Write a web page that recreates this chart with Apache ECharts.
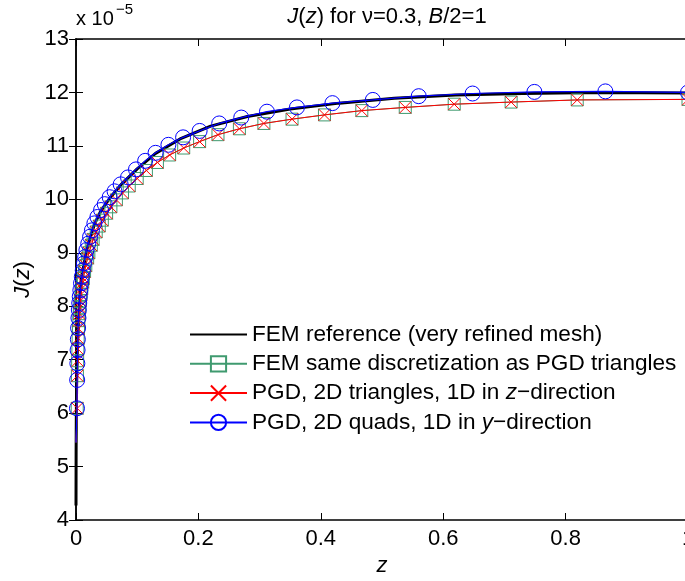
<!DOCTYPE html>
<html><head><meta charset="utf-8">
<script src="https://cdn.jsdelivr.net/npm/echarts@6/dist/echarts.min.js"></script>
<style>html,body{margin:0;padding:0;background:#fff}#c{width:685px;height:581px}</style>
</head><body><div id="c"></div><script>
// FEM reference (very refined mesh)
const refZ = [0, 0.0002, 0.0005, 0.001, 0.0016, 0.0022, 0.003, 0.004, 0.0055, 0.0075, 0.01, 0.013, 0.017, 0.022, 0.03, 0.04, 0.055, 0.075, 0.1, 0.13, 0.17, 0.22, 0.28, 0.35, 0.43, 0.52, 0.62, 0.73, 0.85, 1.0];
const refJ = [4.27, 5.3, 5.9, 6.5, 6.85, 7.1, 7.4, 7.7, 8.05, 8.4, 8.62, 8.78, 9.03, 9.24, 9.53, 9.77, 10.02, 10.29, 10.57, 10.86, 11.13, 11.37, 11.55, 11.69, 11.80, 11.89, 11.95, 11.98, 12.0, 11.99];
// triangle discretization nodes (FEM same discretization & PGD triangles)
const triZ = [0, 0.0020, 0.0023, 0.0027, 0.0031, 0.0035, 0.0041, 0.0047, 0.0054, 0.0062, 0.0071, 0.0082, 0.0094, 0.011, 0.012, 0.014, 0.016, 0.019, 0.021, 0.025, 0.028, 0.033, 0.038, 0.043, 0.050, 0.057, 0.066, 0.076, 0.087, 0.100, 0.115, 0.133, 0.153, 0.176, 0.202, 0.232, 0.267, 0.307, 0.353, 0.406, 0.467, 0.538, 0.618, 0.711, 0.819, 1.0];
const femTriJ = [5.45, 6.09, 6.70, 6.98, 7.20, 7.40, 7.58, 7.73, 7.86, 7.98, 8.10, 8.22, 8.33, 8.45, 8.52, 8.65, 8.76, 8.90, 9.00, 9.14, 9.25, 9.39, 9.50, 9.61, 9.74, 9.86, 9.99, 10.12, 10.25, 10.39, 10.54, 10.69, 10.83, 10.96, 11.08, 11.21, 11.32, 11.42, 11.50, 11.58, 11.66, 11.72, 11.78, 11.82, 11.86, 11.87];
const pgdTriJ = [5.45, 6.09, 6.70, 6.98, 7.20, 7.40, 7.58, 7.73, 7.86, 7.98, 8.10, 8.22, 8.33, 8.45, 8.52, 8.65, 8.76, 8.90, 9.00, 9.14, 9.25, 9.39, 9.50, 9.61, 9.74, 9.86, 9.99, 10.12, 10.25, 10.39, 10.54, 10.69, 10.83, 10.96, 11.08, 11.21, 11.32, 11.42, 11.50, 11.58, 11.66, 11.72, 11.78, 11.82, 11.86, 11.87];
// quad discretization nodes (PGD quads, 1D in y-direction)
const quadZ = [0, 0.0016, 0.0019, 0.0022, 0.0026, 0.0030, 0.0034, 0.0040, 0.0046, 0.0053, 0.0061, 0.0071, 0.0082, 0.0095, 0.011, 0.013, 0.015, 0.017, 0.020, 0.023, 0.026, 0.030, 0.035, 0.041, 0.047, 0.055, 0.063, 0.073, 0.085, 0.098, 0.113, 0.130, 0.151, 0.175, 0.202, 0.234, 0.270, 0.312, 0.361, 0.419, 0.485, 0.560, 0.648, 0.749, 0.865, 1.0];
const pgdQuadJ = [5.45, 6.09, 6.62, 6.93, 7.18, 7.38, 7.59, 7.78, 7.93, 8.06, 8.18, 8.30, 8.43, 8.55, 8.67, 8.80, 8.92, 9.05, 9.17, 9.30, 9.42, 9.55, 9.67, 9.80, 9.91, 10.04, 10.15, 10.28, 10.41, 10.56, 10.72, 10.87, 11.02, 11.16, 11.28, 11.42, 11.53, 11.64, 11.72, 11.80, 11.86, 11.93, 11.98, 12.01, 12.02, 12.00];

const seriesNames = ['FEM reference (very refined mesh)', 'FEM same discretization as PGD triangles', 'PGD, 2D triangles, 1D in z\u2212direction', 'PGD, 2D quads, 1D in y\u2212direction'];
const legendLabels = ['FEM reference (very refined mesh)', 'FEM same discretization as PGD triangles', 'PGD, 2D triangles, 1D in {i|z}\u2212direction', 'PGD, 2D quads, 1D in {i|y}\u2212direction'];
const xTickLabels = ['0', '0.2', '0.4', '0.6', '0.8', '1'];
const yTickLabels = ['4', '5', '6', '7', '8', '9', '10', '11', '12', '13'];
const titleText = '{i|J}({i|z}) for \u03bd=0.3, {i|B}/2=1';
const yName = '{i|J}({i|z})';
const scaleText = 'x 10';
const scaleExp = '\u22125';

const FONT = '"Liberation Sans", Arial, Helvetica, sans-serif';
function pts(zs, js) {
  return zs.map((z, i) => z === 0 ? {value: [z, js[i]], symbol: 'none'} : [z, js[i]]);
}
const chart = echarts.init(document.getElementById('c'), null, {renderer: 'canvas'});
const axisCommon = {
  axisLine: {show: true, lineStyle: {color: '#000', width: 1.5}},
  axisTick: {show: true, inside: true, length: 7, lineStyle: {color: '#000', width: 1}},
  splitLine: {show: false}
};
const crossPath = 'path://M0,0L10,10M10,0L0,10';
chart.setOption({
  animation: false,
  backgroundColor: '#fff',
  title: {
    text: titleText, left: 382, top: 1, textAlign: 'center',
    textStyle: {fontSize: 22, fontWeight: 'normal', color: '#000', fontFamily: FONT,
      rich: {i: {fontStyle: 'italic', fontSize: 22, fontFamily: FONT, color: '#000'}}}
  },
  graphic: [
    {type: 'text', left: 76, top: 9, style: {text: scaleText, fontSize: 20, fontFamily: FONT, fill: '#000'}},
    {type: 'text', left: 116, top: 2, style: {text: scaleExp, fontSize: 15, fontFamily: FONT, fill: '#000'}}
  ],
  grid: {left: 76, top: 39, right: -3, bottom: 61, containLabel: false, outerBoundsMode: 'none'},
  xAxis: [
    Object.assign({}, axisCommon, {
      type: 'value', min: 0, max: 1, interval: 0.2, position: 'bottom',
      axisLabel: {fontSize: 22, color: '#000', fontFamily: FONT, margin: 8,
        formatter: (v) => xTickLabels[Math.round(v / 0.2)]},
      name: 'z', nameLocation: 'middle', nameGap: 32,
      nameTextStyle: {fontSize: 22, fontStyle: 'italic', color: '#000', fontFamily: FONT}
    }),
    Object.assign({}, axisCommon, {
      type: 'value', min: 0, max: 1, interval: 0.2, position: 'top',
      axisLabel: {show: false}
    })
  ],
  yAxis: [
    Object.assign({}, axisCommon, {
      type: 'value', min: 4, max: 13, interval: 1, position: 'left',
      axisLabel: {fontSize: 22, color: '#000', fontFamily: FONT, margin: 7,
        formatter: (v) => yTickLabels[Math.round(v - 4)]},
      name: yName, nameLocation: 'middle', nameGap: 32, nameRotate: 90,
      nameTextStyle: {fontSize: 22, color: '#000', fontFamily: FONT,
        rich: {i: {fontStyle: 'italic', fontSize: 22, fontFamily: FONT, color: '#000'}}}
    }),
    Object.assign({}, axisCommon, {
      type: 'value', min: 4, max: 13, interval: 1, position: 'right',
      axisLabel: {show: false}
    })
  ],
  legend: {
    orient: 'vertical', left: 189, top: 323, itemWidth: 57, itemHeight: 19, itemGap: 6.3,
    padding: 0,
    textStyle: {fontSize: 22.6, color: '#000', fontFamily: FONT,
      rich: {i: {fontStyle: 'italic', fontSize: 22.6, fontFamily: FONT, color: '#000'}}},
    formatter: (n) => legendLabels[seriesNames.indexOf(n)],
    data: seriesNames
  },
  series: [
    {
      name: seriesNames[0], type: 'line', data: pts(refZ, refJ), showSymbol: false, symbol: 'circle',
      itemStyle: {color: 'rgba(0,0,0,0)'}, lineStyle: {color: '#000', width: 3}, z: 2
    },
    {
      name: seriesNames[1], type: 'line', data: pts(triZ, femTriJ), symbol: 'rect', symbolSize: 12, showAllSymbol: true,
      itemStyle: {color: 'rgba(0,0,0,0)', borderColor: '#3f9a6f', borderWidth: 1},
      lineStyle: {color: '#3f9a6f', width: 1}, z: 3
    },
    {
      name: seriesNames[2], type: 'line', data: pts(triZ, pgdTriJ), symbol: crossPath, symbolSize: 12, showAllSymbol: true,
      itemStyle: {color: 'rgba(0,0,0,0)', borderColor: '#ff0000', borderWidth: 1},
      lineStyle: {color: '#ff0000', width: 1}, z: 4
    },
    {
      name: seriesNames[3], type: 'line', data: pts(quadZ, pgdQuadJ), symbol: 'circle', symbolSize: 15, showAllSymbol: true,
      itemStyle: {color: 'rgba(0,0,0,0)', borderColor: '#0000ff', borderWidth: 1},
      lineStyle: {color: '#0000ff', width: 1.2}, z: 5
    }
  ]
});
</script></body></html>
